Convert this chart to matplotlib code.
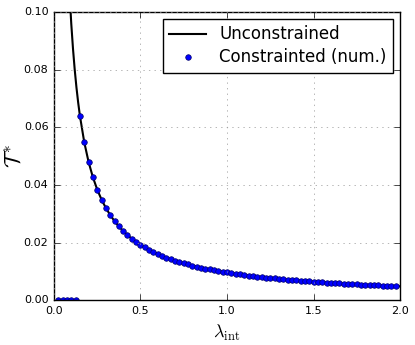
import numpy as np
import matplotlib
matplotlib.use("Agg")
import matplotlib.pyplot as plt

# ============================================================
# Data
# ============================================================

lam_zero = [0.025, 0.05, 0.075, 0.1, 0.125]
T_zero = [0.0, 0.0, 0.0, 0.0, 0.0]

lam_con = [
    0.150, 0.175, 0.200, 0.225, 0.250, 0.275, 0.300, 0.325, 0.350, 0.375,
    0.400, 0.425, 0.450, 0.475, 0.500, 0.525, 0.550, 0.575, 0.600, 0.625,
    0.650, 0.675, 0.700, 0.725, 0.750, 0.775, 0.800, 0.825, 0.850, 0.875,
    0.900, 0.925, 0.950, 0.975, 1.000, 1.025, 1.050, 1.075, 1.100, 1.125,
    1.150, 1.175, 1.200, 1.225, 1.250, 1.275, 1.300, 1.325, 1.350, 1.375,
    1.400, 1.425, 1.450, 1.475, 1.500, 1.525, 1.550, 1.575, 1.600, 1.625,
    1.650, 1.675, 1.700, 1.725, 1.750, 1.775, 1.800, 1.825, 1.850, 1.875,
    1.900, 1.925, 1.950, 1.975,
]
T_con = [
    0.0640, 0.05486, 0.0480, 0.04267, 0.0384, 0.03491, 0.0320, 0.02954, 0.02743, 0.0256,
    0.0240, 0.02259, 0.02133, 0.02021, 0.0192, 0.01829, 0.01745, 0.0167, 0.0160, 0.01536,
    0.01477, 0.01422, 0.01371, 0.01324, 0.0128, 0.01239, 0.0120, 0.01164, 0.01129, 0.01097,
    0.01067, 0.01038, 0.01011, 0.00985, 0.0096, 0.00937, 0.00914, 0.00893, 0.00873, 0.00853,
    0.00835, 0.00817, 0.0080, 0.00784, 0.00768, 0.00753, 0.00738, 0.00725, 0.00711, 0.00698,
    0.00686, 0.00674, 0.00662, 0.00651, 0.0064, 0.0063, 0.00619, 0.0061, 0.0060, 0.00591,
    0.00582, 0.00573, 0.00565, 0.00557, 0.00549, 0.00541, 0.00533, 0.00526, 0.00519, 0.00512,
    0.00505, 0.00499, 0.00492, 0.00486,
]

lam_unc = [0.09, 0.10, 0.11, 0.12, 0.13, 0.14] + lam_con + [2.0]
T_unc = [0.1067, 0.0960, 0.0873, 0.0800, 0.07385, 0.06857] + T_con + [0.0048]

# ============================================================
# Plot
# ============================================================

plt.style.use("classic")

fig = plt.figure(figsize=(4.15, 3.45), dpi=100)
ax = fig.add_axes([0.130, 0.130, 0.834, 0.835])

ax.plot(lam_unc, T_unc, "k-", lw=1.5, label="Unconstrained")
ax.plot(lam_con, T_con, "bo", ms=4, mec="#000066", mew=0.5,
        label="Constrainted (num.)")
ax.plot(lam_zero, T_zero, "bo", ms=4, mec="#000066", mew=0.5,
        clip_on=True)

ax.set_xlim(0.0, 2.0)
ax.set_ylim(0.0, 0.1)
ax.set_xticks([0.0, 0.5, 1.0, 1.5, 2.0])
ax.set_yticks([0.0, 0.02, 0.04, 0.06, 0.08, 0.10])
ax.set_yticklabels(["0.00", "0.02", "0.04", "0.06", "0.08", "0.10"])
ax.tick_params(labelsize=8)
ax.grid(True, color="0.6", ls=":")

ax.set_xlabel(r"$\lambda_{\rm int}$", fontsize=13)
ax.set_ylabel(r"$\mathcal{T}^*$", fontsize=16)
ax.yaxis.set_label_coords(-0.085, 0.5)

ax.legend(loc="upper right", numpoints=1, fontsize=12,
          borderaxespad=0.4, handlelength=2.2, labelspacing=0.3)

fig.savefig("out.png", dpi=100)
